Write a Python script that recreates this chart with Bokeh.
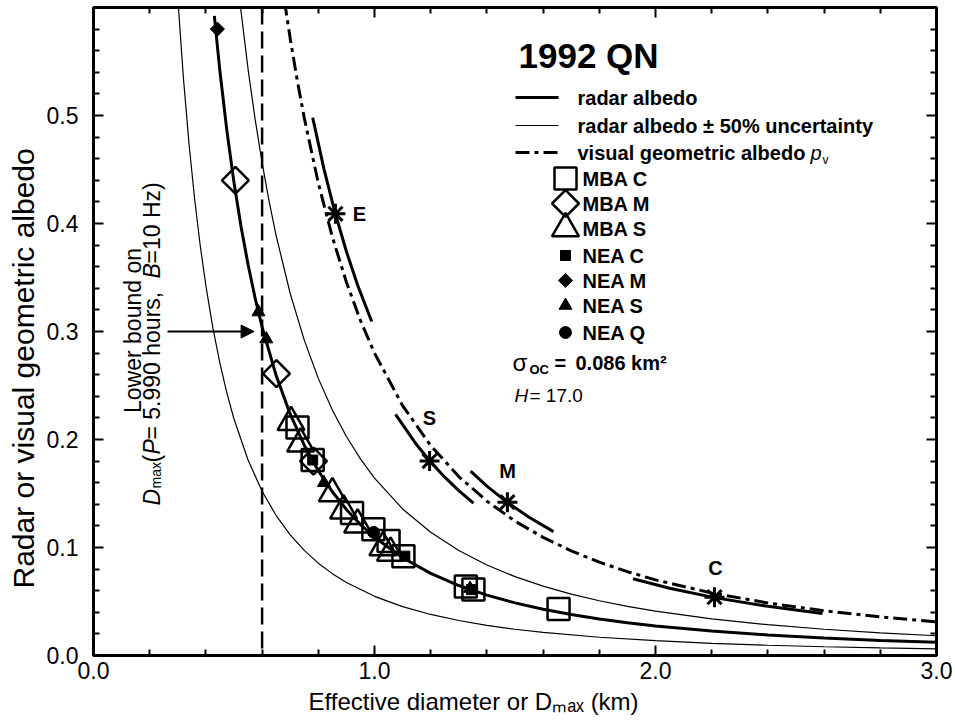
import math
from bokeh.plotting import figure
from bokeh.models import (Label, Arrow, NormalHead, Span, LinearAxis, FixedTicker,
                          NumeralTickFormatter, Range1d, CustomJSTickFormatter, Title)
from bokeh.embed import file_html
from bokeh.resources import INLINE

# ---------------- data ----------------
# radar albedo curve, sigma_oc = 0.086 km^2
RADAR_D = [0.43, 0.45, 0.475, 0.50, 0.525, 0.55, 0.575, 0.60, 0.65, 0.70, 0.75, 0.80,
           0.85, 0.90, 0.95, 1.0, 1.1, 1.2, 1.3, 1.4, 1.5, 1.6, 1.7, 1.8, 1.9, 2.0,
           2.2, 2.4, 2.6, 2.8, 3.0]
RADAR_ALB = [0.5922, 0.5407, 0.4853, 0.4380, 0.3973, 0.3620, 0.3312, 0.3042, 0.2592,
             0.2235, 0.1947, 0.1711, 0.1516, 0.1352, 0.1213, 0.1095, 0.0905, 0.0760,
             0.0648, 0.0559, 0.0487, 0.0428, 0.0379, 0.0338, 0.0303, 0.0274, 0.0226,
             0.0190, 0.0162, 0.0140, 0.0122]
# radar albedo +50 %
HI_D = [0.52, 0.55, 0.575, 0.60, 0.625, 0.65, 0.70, 0.75, 0.80, 0.85, 0.90, 0.95, 1.0,
        1.1, 1.2, 1.3, 1.4, 1.5, 1.6, 1.7, 1.8, 1.9, 2.0, 2.2, 2.4, 2.6, 2.8, 3.0]
HI_ALB = [0.6074, 0.5430, 0.4968, 0.4563, 0.4205, 0.3888, 0.3352, 0.2920, 0.2566,
          0.2273, 0.2028, 0.1820, 0.1643, 0.1357, 0.1141, 0.0972, 0.0838, 0.0730,
          0.0642, 0.0568, 0.0507, 0.0455, 0.0411, 0.0339, 0.0285, 0.0243, 0.0210, 0.0183]
# radar albedo -50 %
LO_D = [0.30, 0.32, 0.34, 0.36, 0.38, 0.40, 0.425, 0.45, 0.475, 0.50, 0.55, 0.60, 0.65,
        0.70, 0.75, 0.80, 0.85, 0.90, 1.0, 1.1, 1.2, 1.3, 1.4, 1.5, 1.6, 1.8, 2.0, 2.2,
        2.4, 2.6, 2.8, 3.0]
LO_ALB = [0.6083, 0.5347, 0.4736, 0.4225, 0.3792, 0.3422, 0.3031, 0.2704, 0.2427,
          0.2190, 0.1810, 0.1521, 0.1296, 0.1117, 0.0973, 0.0855, 0.0758, 0.0676,
          0.0548, 0.0452, 0.0380, 0.0324, 0.0279, 0.0243, 0.0214, 0.0169, 0.0137,
          0.0113, 0.0095, 0.0081, 0.0070, 0.0061]
# visual geometric albedo p_v for H = 17.0
PV_D = [0.68, 0.70, 0.725, 0.75, 0.80, 0.85, 0.90, 0.95, 1.0, 1.1, 1.2, 1.3, 1.4, 1.5,
        1.6, 1.7, 1.8, 1.9, 2.0, 2.2, 2.4, 2.6, 2.8, 3.0]
PV_ALB = [0.6055, 0.5714, 0.5327, 0.4978, 0.4375, 0.3875, 0.3457, 0.3102, 0.2800,
          0.2314, 0.1944, 0.1657, 0.1429, 0.1244, 0.1094, 0.0969, 0.0864, 0.0776,
          0.0700, 0.0579, 0.0486, 0.0414, 0.0357, 0.0311]
# taxonomic class mean albedos and their ranges
CLASS_NAMES = ["E", "S", "M", "C"]
CLASS_D = [0.861, 1.196, 1.473, 2.21]
CLASS_PV = [0.409, 0.180, 0.142, 0.054]
SEG_E_D = [0.78, 0.82, 0.86, 0.90, 0.94, 0.99]
SEG_E_ALB = [0.4980, 0.4506, 0.4097, 0.3741, 0.3429, 0.3092]
SEG_S_D = [1.075, 1.15, 1.20, 1.25, 1.30, 1.352]
SEG_S_ALB = [0.2233, 0.1951, 0.1792, 0.1651, 0.1527, 0.1411]
SEG_M_D = [1.342, 1.40, 1.47, 1.55, 1.637]
SEG_M_ALB = [0.1707, 0.1569, 0.1423, 0.1280, 0.1147]
SEG_C_D = [1.92, 2.05, 2.21, 2.40, 2.594]
SEG_C_ALB = [0.0711, 0.0623, 0.0536, 0.0455, 0.0389]
# asteroid radar albedos
MBA_C_D = [0.726, 0.780, 0.920, 0.996, 1.050, 1.103, 1.325, 1.352, 1.655]
MBA_C_ALB = [0.211, 0.181, 0.132, 0.117, 0.106, 0.092, 0.064, 0.061, 0.043]
MBA_M_D = [0.505, 0.651, 0.783]
MBA_M_ALB = [0.440, 0.261, 0.180]
MBA_S_D = [0.703, 0.737, 0.850, 0.890, 0.940, 1.030, 1.057]
MBA_S_ALB = [0.216, 0.196, 0.150, 0.134, 0.121, 0.100, 0.095]
NEA_C_D = [0.780, 1.108, 1.345]
NEA_C_ALB = [0.181, 0.092, 0.061]
NEA_M_D = [0.441]
NEA_M_ALB = [0.580]
NEA_S_D = [0.587, 0.615, 0.820, 1.340]
NEA_S_ALB = [0.318, 0.293, 0.160, 0.062]
NEA_Q_D = [0.997]
NEA_Q_ALB = [0.114]
# lower bound D_max
DMAX_BOUND = 0.6
ARROW_ALB = 0.30

X_TICKS = [0.0, 1.0, 2.0, 3.0]
X_MINOR = [0.2, 0.4, 0.6, 0.8, 1.2, 1.4, 1.6, 1.8, 2.2, 2.4, 2.6, 2.8]
Y_TICKS = [0.0, 0.1, 0.2, 0.3, 0.4, 0.5]
Y_MINOR = [0.02, 0.04, 0.06, 0.08, 0.12, 0.14, 0.16, 0.18, 0.22, 0.24, 0.26, 0.28,
           0.32, 0.34, 0.36, 0.38, 0.42, 0.44, 0.46, 0.48, 0.52, 0.54, 0.56, 0.58]

# ---------------- layout ----------------
FONT = "Liberation Sans"
LEFT, RIGHT, TOP, BOTTOM = 93, 19, 7, 68
W, H = 955, 723
XMAX, YMAX = 3.0, 0.6
FW, FH = W - LEFT - RIGHT, H - TOP - BOTTOM


def X(px):
    return (px - LEFT) * XMAX / FW


def Y(py):
    return (TOP + FH - py) * YMAX / FH


p = figure(width=W, height=H, x_range=Range1d(0, XMAX), y_range=Range1d(0, YMAX),
           output_backend="svg", toolbar_location=None,
           min_border_left=LEFT, min_border_right=RIGHT, min_border_top=TOP,
           min_border_bottom=BOTTOM)
p.xgrid.visible = False
p.ygrid.visible = False
p.outline_line_color = "black"
p.outline_line_width = 3
p.background_fill_color = "white"
p.border_fill_color = "white"


def style_axis(ax, labels=True):
    ax.axis_line_width = 3
    ax.axis_line_color = "black"
    ax.major_tick_in = 10
    ax.major_tick_out = 0
    ax.minor_tick_in = 6
    ax.minor_tick_out = 0
    ax.major_tick_line_width = 2
    ax.minor_tick_line_width = 2
    ax.major_tick_line_color = "black"
    ax.minor_tick_line_color = "black"
    ax.major_label_text_font = FONT
    ax.major_label_text_font_size = "23px"
    ax.major_label_text_color = "black"
    if not labels:
        ax.formatter = CustomJSTickFormatter(code="return ''")
        ax.major_label_standoff = 0


p.xaxis.ticker = FixedTicker(ticks=X_TICKS, minor_ticks=X_MINOR)
p.yaxis.ticker = FixedTicker(ticks=Y_TICKS, minor_ticks=Y_MINOR)
p.xaxis.formatter = NumeralTickFormatter(format="0.0")
p.yaxis.formatter = NumeralTickFormatter(format="0.0")
style_axis(p.xaxis[0])
style_axis(p.yaxis[0])
p.xaxis.major_label_standoff = 6
p.yaxis.major_label_standoff = 15

ax_r = LinearAxis(ticker=FixedTicker(ticks=Y_TICKS, minor_ticks=Y_MINOR))
style_axis(ax_r, labels=False)
p.add_layout(ax_r, "right")
ax_t = LinearAxis(ticker=FixedTicker(ticks=X_TICKS, minor_ticks=X_MINOR))
style_axis(ax_t, labels=False)
p.add_layout(ax_t, "above")

# axis titles (placed in the side panels so they are not clipped)
p.add_layout(Title(text="Effective diameter or D\u2098\u2090\u2093 (km)", align="left",
                   offset=215, standoff=9, text_font=FONT, text_font_size="24px",
                   text_font_style="normal", text_color="black"), "below")
p.add_layout(Title(text="Radar or visual geometric albedo", align="left",
                   offset=67, standoff=8, text_font=FONT, text_font_size="30px",
                   text_font_style="normal", text_color="black"), "left")

# ---------------- curves ----------------
p.line(LO_D, LO_ALB, line_color="black", line_width=1.2)
p.line(HI_D, HI_ALB, line_color="black", line_width=1.2)
p.line(RADAR_D, RADAR_ALB, line_color="black", line_width=3)
p.line(PV_D, PV_ALB, line_color="black", line_width=3, line_dash="14 5 4 5")
for sd, sa in [(SEG_E_D, SEG_E_ALB), (SEG_S_D, SEG_S_ALB), (SEG_M_D, SEG_M_ALB),
               (SEG_C_D, SEG_C_ALB)]:
    p.line(sd, sa, line_color="black", line_width=3)

p.add_layout(Span(location=DMAX_BOUND, dimension="height", line_color="black",
                  line_width=2.5, line_dash="17 7"))
p.add_layout(Arrow(end=NormalHead(size=13, fill_color="black", line_color="black"),
                   x_start=X(167), y_start=ARROW_ALB, x_end=DMAX_BOUND - X(101),
                   y_end=ARROW_ALB, line_color="black", line_width=2))

# ---------------- points ----------------
OPEN = dict(fill_alpha=0, line_color="black", line_width=2.5)
FILLED = dict(fill_color="black", line_color="black", line_width=1)
p.scatter(MBA_C_D, MBA_C_ALB, marker="square", size=22, **OPEN)
p.scatter(MBA_M_D, MBA_M_ALB, marker="square", angle=math.pi / 4, size=19, **OPEN)
p.scatter(MBA_S_D, MBA_S_ALB, marker="triangle", size=27, **OPEN)
p.scatter(NEA_C_D, NEA_C_ALB, marker="square", size=10, **FILLED)
p.scatter(NEA_M_D, NEA_M_ALB, marker="square", angle=math.pi / 4, size=10, **FILLED)
p.scatter(NEA_S_D, NEA_S_ALB, marker="triangle", size=13, **FILLED)
p.scatter(NEA_Q_D, NEA_Q_ALB, marker="circle", size=12, **FILLED)
p.scatter(CLASS_D, CLASS_PV, marker="asterisk", size=20, line_color="black", line_width=3)


def lab(px, py, text, size, style="normal", align="left", baseline="middle", angle=0.0):
    p.add_layout(Label(x=X(px), y=Y(py), text=text, text_font=FONT,
                       text_font_size=f"{size}px", text_font_style=style,
                       text_align=align, text_baseline=baseline, angle=angle,
                       text_color="black"))


# class labels
for name, (lx, ly) in zip(CLASS_NAMES, [(359, 213), (429, 417), (507, 470), (715, 567)]):
    lab(lx, ly, name, 20, "bold", align="center")

# ---------------- legend block ----------------
lab(518, 55, "1992 QN", 35, "bold")
p.line([X(515), X(558)], [Y(97), Y(97)], line_color="black", line_width=3)
p.line([X(515), X(558)], [Y(125), Y(125)], line_color="black", line_width=1.2)
p.line([X(515), X(558)], [Y(152), Y(152)], line_color="black", line_width=3,
       line_dash="14 5 4 5")
lab(577, 97, "radar albedo", 20, "bold")
lab(577, 125, "radar albedo \u00b1 50% uncertainty", 20, "bold")
lab(577, 152, "visual geometric albedo ", 20, "bold")
lab(810, 152, "p", 20, "italic")
lab(822, 159, "v", 12, "normal")

rows = [178, 203, 228, 255, 280, 305, 332]
MX = X(565)
p.scatter([MX], [Y(rows[0])], marker="square", size=22, **OPEN)
p.scatter([MX], [Y(rows[1])], marker="square", angle=math.pi / 4, size=19, **OPEN)
p.scatter([MX], [Y(rows[2])], marker="triangle", size=27, **OPEN)
p.scatter([MX], [Y(rows[3])], marker="square", size=10, **FILLED)
p.scatter([MX], [Y(rows[4])], marker="square", angle=math.pi / 4, size=10, **FILLED)
p.scatter([MX], [Y(rows[5])], marker="triangle", size=13, **FILLED)
p.scatter([MX], [Y(rows[6])], marker="circle", size=12, **FILLED)
for txt, ry in zip(["MBA C", "MBA M", "MBA S", "NEA C", "NEA M", "NEA S", "NEA Q"], rows):
    lab(582, ry, txt, 20, "bold")

lab(512, 362, "\u03c3", 24, "normal")
lab(529, 369, "OC", 13, "bold")
lab(554, 362, "=", 20, "bold")
lab(575, 362, "0.086 km\u00b2", 20, "bold")
lab(514, 395, "H", 19, "italic")
lab(529, 395, "= 17.0", 19, "normal")

# ---------------- rotated annotation ----------------
A = math.pi / 2
lab(132, 330, "Lower bound on", 23, "normal", align="center", baseline="alphabetic", angle=A)
lab(151, 505, "D", 23, "italic", baseline="alphabetic", angle=A)
lab(155, 488, "max", 14, "normal", baseline="alphabetic", angle=A)
lab(151, 462, "(", 23, "normal", baseline="alphabetic", angle=A)
lab(151, 454, "P", 23, "italic", baseline="alphabetic", angle=A)
lab(151, 439, " = 5.990 hours, ", 23, "normal", baseline="alphabetic", angle=A)
lab(151, 278, "B", 23, "italic", baseline="alphabetic", angle=A)
lab(151, 263, "=10 Hz)", 23, "normal", baseline="alphabetic", angle=A)

open("out.html", "w").write(file_html(p, INLINE))
